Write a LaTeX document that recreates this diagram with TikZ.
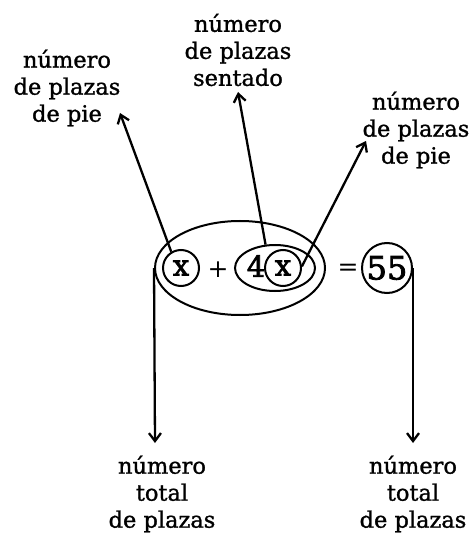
\documentclass[tikz,border=0pt]{standalone}
\usepackage{fontspec}
\setmainfont[FakeBold=1.2]{DejaVu Serif}
\newfontfamily\symfont{DejaVu Serif}[FakeBold=2.5]
\newfontfamily\opfont{DejaVu Serif}
\usetikzlibrary{shapes.geometric,arrows.meta}
\tikzset{
  lbl/.style={align=center,font=\fontsize{22.5}{27}\selectfont,inner sep=0pt},
  sym/.style={font=\symfont\fontsize{29}{30}\selectfont,inner sep=0pt},
  op/.style={font=\opfont\fontsize{25}{30}\selectfont,inner sep=0pt},
  ring/.style={circle,draw,line width=2pt,inner sep=0pt},
  oval/.style={ellipse,draw,line width=2pt,inner sep=0pt},
  arr/.style={line width=2.3pt,-{Straight Barb[length=8pt,width=12pt,line width=2.3pt]}}
}
\begin{document}
\begin{tikzpicture}[x=1pt,y=-1pt]
\useasboundingbox (0,0) rectangle (475,534);
% ovals and circles
\node[oval,minimum width=170pt,minimum height=94pt] (big) at (240,268) {};
\node[oval,minimum width=80pt,minimum height=46pt] (inner) at (275,268) {};
\node[ring,minimum size=36pt] (x1) at (181,268) {};
\node[sym] at (x1) {x};
\node[op] (plus) at (218,270) {+};
\node[sym] (four) at (256,266) {4};
\node[ring,minimum size=36pt] (x2) at (283,268) {};
\node[sym] at (x2) {x};
\node[op] (eq) at (348,270) {=};
\node[ring,minimum size=50pt] (c55) at (387,268) {};
\node[sym,font=\symfont\fontsize{32}{32}\selectfont] at (c55) {55};
% labels
\node[lbl] (lpie) at (67,88) {número\\de plazas\\de pie};
\node[lbl] (tsent) at (238,50) {número\\de plazas\\sentado};
\node[lbl] (rpie) at (416,130) {número\\de plazas\\de pie};
\node[lbl] (bl) at (162,494) {número\\total\\de plazas};
\node[lbl] (br) at (413,494) {número\\total\\de plazas};
% arrow tips
\coordinate (tl) at (120,113);
\coordinate (tt) at (238,92);
\coordinate (tr) at (366,141);
\coordinate (tbl) at (155,443);
\coordinate (tbr) at (413,443);
% connectors
\draw[arr] (x1.121) -- (tl);
\draw[arr] (inner.112) -- (tt);
\draw[arr] (x2.5) -- (tr);
\draw[arr] (big.west) -- (tbl);
\draw[arr] (c55.east) -- (tbr);
\end{tikzpicture}
\end{document}
